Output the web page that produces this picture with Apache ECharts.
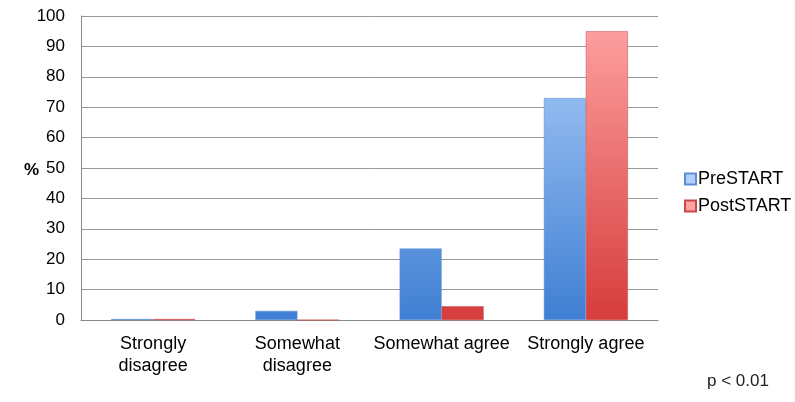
<!DOCTYPE html>
<html>
<head>
<meta charset="utf-8">
<script src="https://cdn.jsdelivr.net/npm/echarts@6/dist/echarts.min.js"></script>
<style>
  html, body { margin: 0; padding: 0; background: #fff; }
  #chart { width: 795px; height: 402px; }
</style>
</head>
<body>
<div id="chart"></div>
<script>
const categories = ['Strongly\ndisagree', 'Somewhat\ndisagree', 'Somewhat agree', 'Strongly agree'];
const preStart = [0.3, 3, 23.5, 73];
const postStart = [0.3, 0, 4.5, 95];
const yTicks = [0, 10, 20, 30, 40, 50, 60, 70, 80, 90, 100];

const FONT = '"Liberation Sans", Arial, sans-serif';

function grad(top, bottom) {
  // one gradient over the whole plot height, like the original
  return new echarts.graphic.LinearGradient(0, 16, 0, 320, [
    { offset: 0, color: top },
    { offset: 1, color: bottom },
  ], true);
}

const chart = echarts.init(document.getElementById('chart'));
chart.setOption({
  animation: false,
  grid: {
    left: 81,
    right: 137,
    top: 16,
    bottom: 82,
  },
  legend: {
    orient: 'vertical',
    left: 679,
    top: 165,
    itemWidth: 11,
    itemHeight: 11,
    itemGap: 9,
    icon: 'rect',
    textStyle: {
      fontFamily: FONT,
      fontSize: 18,
      color: '#000',
      padding: [0, 0, 0, -3],
    },
    data: ['PreSTART', 'PostSTART'],
  },
  xAxis: {
    type: 'category',
    data: categories,
    axisLine: { lineStyle: { color: '#888' } },
    axisTick: { show: false },
    axisLabel: {
      interval: 0,
      margin: 13,
      fontFamily: FONT,
      fontSize: 18,
      color: '#000',
      lineHeight: 22,
    },
  },
  yAxis: {
    type: 'value',
    min: yTicks[0],
    max: yTicks[yTicks.length - 1],
    interval: 10,
    axisLine: { show: true, lineStyle: { color: '#888' } },
    axisTick: { show: false },
    splitLine: { lineStyle: { color: '#999' } },
    axisLabel: {
      margin: 16,
      fontFamily: FONT,
      fontSize: 17,
      color: '#000',
    },
  },
  series: [{
    name: 'PreSTART',
    type: 'bar',
    data: preStart,
    barWidth: 42,
    barGap: '0%',
    itemStyle: {
      color: grad('#b0d0fa', '#3f7fd3'),
      borderColor: '#5a8fd8',
      borderWidth: 0.5,
    },
  }, {
    name: 'PostSTART',
    type: 'bar',
    data: postStart,
    barWidth: 42,
    barGap: '0%',
    itemStyle: {
      color: grad('#ffa3a3', '#d63c3c'),
      borderColor: '#c84848',
      borderWidth: 0.5,
    },
  }],
  graphic: [{
    type: 'text',
    left: 24,
    top: 162,
    style: {
      text: '%',
      font: 'bold 17px ' + FONT,
      fill: '#000',
    },
  }, {
    type: 'text',
    left: 707,
    top: 373,
    style: {
      text: 'p < 0.01',
      font: '17px ' + FONT,
      fill: '#222',
    },
  }],
});
</script>
</body>
</html>
